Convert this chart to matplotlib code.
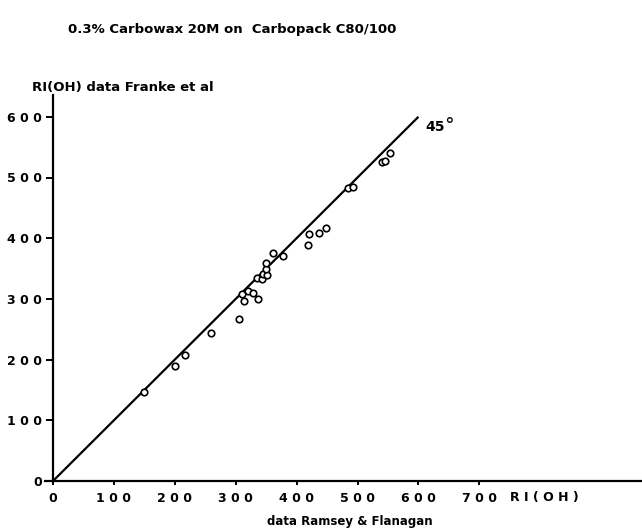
import matplotlib
matplotlib.use("Agg")
import matplotlib.pyplot as plt

# Retention indices: Ramsey & Flanagan (x) vs Franke et al (y)
ri_ramsey = [149, 201, 216, 260, 306, 310, 313, 320, 328, 337, 335, 344, 345,
             352, 350, 350, 362, 378, 418, 421, 437, 448, 485, 493, 540, 545,
             553]
ri_franke = [146, 190, 207, 243, 267, 308, 297, 313, 309, 300, 335, 332, 341,
             340, 350, 359, 376, 370, 388, 407, 409, 416, 482, 484, 525, 528,
             540]

x_ticks = [0, 100, 200, 300, 400, 500, 600, 700]
y_ticks = [0, 100, 200, 300, 400, 500, 600]
line_end = 600


def spaced(v):
    return ' '.join(str(v))


plt.rcParams['font.family'] = ['DejaVu Sans']
plt.rcParams['font.weight'] = 'bold'

W, H = 642, 532
fig = plt.figure(figsize=(W / 100, H / 100), dpi=100)

x0_px, y0_px = 53, 481
sx, sy = 0.609, 0.607
xmin, xmax = -13, (W - x0_px) / sx
ymin, ymax = 0, (y0_px - 95) / sy
left = (x0_px + xmin * sx) / W
bottom = (H - y0_px) / H
ax = fig.add_axes([left, bottom, 1 - left, (y0_px - 95) / H])
ax.set_xlim(xmin, xmax)
ax.set_ylim(ymin, ymax)

for s in ['top', 'right']:
    ax.spines[s].set_visible(False)
ax.spines['left'].set_position(('data', 0))
ax.spines['left'].set_linewidth(1.6)
ax.spines['bottom'].set_linewidth(1.6)

ax.set_xticks(x_ticks)
ax.set_xticklabels([spaced(v) for v in x_ticks])
ax.set_yticks(y_ticks)
ax.set_yticklabels([spaced(v) for v in y_ticks])
ax.tick_params(axis='x', direction='out', length=3, width=1.4, pad=5, labelsize=9)
ax.tick_params(axis='y', direction='out', length=5, width=1.4, pad=3, labelsize=9)
for lab in ax.get_xticklabels() + ax.get_yticklabels():
    lab.set_fontweight('bold')

# 45 degree reference line
ax.plot([0, line_end], [0, line_end], color='black', lw=1.6, solid_capstyle='butt')
ax.scatter(ri_ramsey, ri_franke, s=22, facecolors='white', edgecolors='black',
           linewidths=1.2, zorder=3)

ax.text(612, 577, '45', fontsize=10, fontweight='bold', ha='left', va='baseline')
ax.text(642, 577, '°', fontsize=14, fontweight='normal', ha='left', va='baseline')
ax.text(750, -17, 'R I ( O H )', fontsize=9, fontweight='bold', ha='left', va='top')

fig.text(68 / W, 1 - 30 / H, '0.3% Carbowax 20M on  Carbopack C80/100',
         fontsize=9.5, fontweight='bold', ha='left', va='center')
fig.text(32 / W, 1 - 87 / H, 'RI(OH) data Franke et al',
         fontsize=9.5, fontweight='bold', ha='left', va='center')
fig.text(267 / W, 1 - 522 / H, 'data Ramsey & Flanagan',
         fontsize=8.5, fontweight='bold', ha='left', va='center')

fig.savefig('out.png', dpi=100, facecolor='white')
